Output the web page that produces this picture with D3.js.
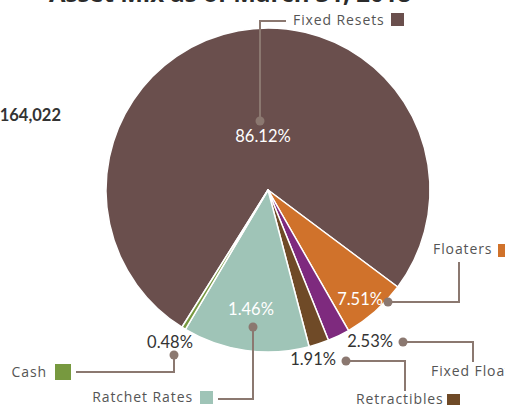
<!DOCTYPE html>
<html><head><meta charset="utf-8">
<script src="https://cdn.jsdelivr.net/npm/d3@7/dist/d3.min.js"></script>
<style>html,body{margin:0;padding:0;background:#fff;overflow:hidden}</style>
</head><body>
<svg id="c" width="505" height="405"></svg>
<script>
// ---- data ----
const categories = ["Fixed Resets","Floaters","Fixed Floaters","Retractibles","Ratchet Rates","Cash"];
const sliceValues = [76.3, 6.5, 2.2, 2.0, 12.6, 0.4];          // slice sizes as drawn
const valueLabels = ["86.12%","7.51%","2.53%","1.91%","1.46%","0.48%"]; // printed labels
const colors = ["#6a4f4d","#d0722b","#7e2a7e","#6f4a27","#9fc4b7","#77993f"];
const titleText = "Asset Mix as of March 31, 2018";
const totalText = "164,022";

// ---- layout (annotation positions) ----
const cx = 268, cy = 190, R = 162;
const startDeg = 212.1;
const layout = [
  {dot:[260,121], path:[[260,121],[260,21],[286,21]], pct:[263,142,"middle","#fff"], name:[293,25,"start"], sq:[391,13,13]},
  {dot:[388,302], path:[[388,302],[459,302],[459,262]], pct:[383,305,"end","#fff"], name:[433,254,"start"], sq:[498,244,13]},
  {dot:[403,342], path:[[403,342],[473,342],[473,362]], pct:[393,347,"end","#333"], name:[431,376,"start"], sq:null},
  {dot:[346,361], path:[[346,361],[405,361],[405,391]], pct:[336,365,"end","#333"], name:[356,404,"start"], sq:[447,394,13]},
  {dot:[253,327], path:[[253,327],[253,399],[218,399]], pct:[251,315,"middle","#fff"], name:[193,402,"end"], sq:[200,391,13]},
  {dot:[174,355], path:[[174,355],[174,372],[76,372]], pct:[170,348,"middle","#333"], name:[47,377,"end"], sq:[55,364,16]}
];

const svg = d3.select("#c");
svg.append("text").attr("x",230).attr("y",2).attr("text-anchor","middle")
  .attr("font-family","Open Sans").attr("font-weight","bold").attr("font-size",24)
  .attr("fill","#2b2b2b").text(titleText);
svg.append("text").attr("x",61).attr("y",121).attr("text-anchor","end")
  .attr("font-family","Lato").attr("font-weight","bold").attr("font-size",16.5)
  .attr("fill","#333").text(totalText);

const data = categories.map((c,i)=>({cat:c,value:sliceValues[i],label:valueLabels[i],color:colors[i],lay:layout[i]}));
const s = startDeg*Math.PI/180;
const pie = d3.pie().sort(null).value(d=>d.value).startAngle(s).endAngle(s+2*Math.PI);
const arc = d3.arc().innerRadius(0).outerRadius(R);
const g = svg.append("g").attr("transform",`translate(${cx},${cy})`);
g.selectAll("path").data(pie(data)).join("path")
  .attr("d",arc).attr("fill",d=>d.data.color).attr("stroke","#fff").attr("stroke-width",1.5).attr("stroke-linejoin","round");

const line = d3.line();
const ann = svg.append("g");
data.forEach(d=>{
  const L = d.lay;
  ann.append("path").attr("d",line(L.path)).attr("fill","none").attr("stroke","#8b7870").attr("stroke-width",2);
  ann.append("circle").attr("cx",L.dot[0]).attr("cy",L.dot[1]).attr("r",4.5).attr("fill","#8b7870");
  ann.append("text").attr("x",L.pct[0]).attr("y",L.pct[1]).attr("text-anchor",L.pct[2])
    .attr("font-family","Lato").attr("font-size",16.5).attr("fill",L.pct[3]).text(d.label);
  ann.append("text").attr("x",L.name[0]).attr("y",L.name[1]).attr("text-anchor",L.name[2])
    .attr("font-family","Open Sans").attr("font-size",14).attr("letter-spacing",0.9).attr("fill","#555").text(d.cat);
  if(L.sq) ann.append("rect").attr("x",L.sq[0]).attr("y",L.sq[1]).attr("width",L.sq[2]).attr("height",L.sq[2]).attr("fill",d.color);
});
</script>
</body></html>
